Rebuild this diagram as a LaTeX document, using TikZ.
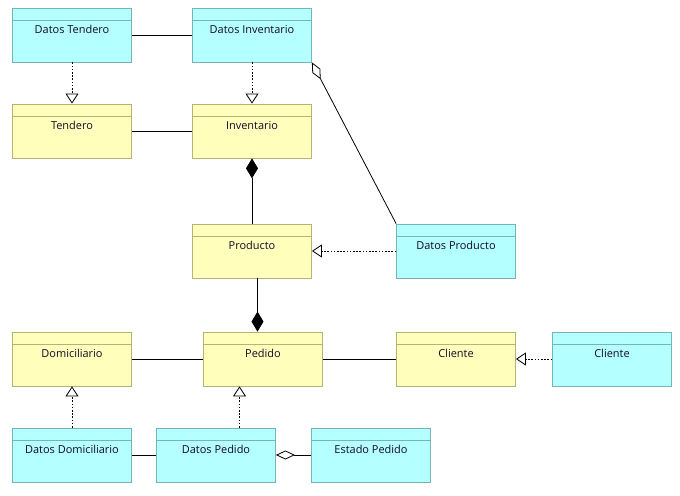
\documentclass[tikz,border=0pt]{standalone}
\usepackage{fontspec}
\setmainfont{Open Sans}
\usetikzlibrary{arrows.meta,calc}
\definecolor{cyanfill}{RGB}{180,255,255}
\definecolor{cyanline}{RGB}{120,180,180}
\definecolor{yelfill}{RGB}{255,255,187}
\definecolor{yelline}{RGB}{180,180,120}
\definecolor{txt}{RGB}{20,10,40}
\begin{document}
\begin{tikzpicture}[x=1bp,y=-1bp,
  font=\fontsize{11}{13}\selectfont,
  cls/.style={rectangle, inner sep=0pt, minimum width=119bp, minimum height=54bp,
    line width=0.8bp,
    path picture={\draw[line width=0.8bp,#1line]
      ([yshift=-12bp]path picture bounding box.north west) --
      ([yshift=-12bp]path picture bounding box.north east);},
    draw=#1line, fill=#1fill},
  cyanbox/.style={cls=cyan},
  yelbox/.style={cls=yel},
  title/.style={anchor=center, yshift=-22bp, inner sep=0pt, text=txt},
  assoc/.style={line width=0.8bp},
  realize/.style={line width=0.8bp, dash pattern=on 1.6bp off 1.6bp,
    -{Triangle[open,length=10bp,width=13bp,line width=0.8bp]}},
  compose/.style={line width=0.8bp, -{Diamond[length=20bp,width=12bp]}},
  aggregate/.style={line width=0.8bp, -{Diamond[open,length=19bp,width=9bp,line width=0.8bp]}}
]
\useasboundingbox (0,0) rectangle (680,496);

% top row: data classes
\node[cyanbox, label={[title]north:Datos Tendero}] (dten) at (72,35) {};
\node[cyanbox, label={[title]north:Datos Inventario}] (dinv) at (252,35) {};

% domain classes
\node[yelbox, label={[title]north:Tendero}] (ten) at (72,131) {};
\node[yelbox, label={[title]north:Inventario}] (inv) at (252,131) {};
\node[yelbox, label={[title]north:Producto}] (prod) at (252,251) {};
\node[cyanbox, label={[title]north:Datos Producto}] (dprod) at (456,251) {};

\node[yelbox, label={[title]north:Domiciliario}] (dom) at (72,359) {};
\node[yelbox, label={[title]north:Pedido}] (ped) at (263,359) {};
\node[yelbox, label={[title]north:Cliente}] (cli) at (456,359) {};
\node[cyanbox, label={[title]north:Cliente}] (dcli) at (612,359) {};

\node[cyanbox, label={[title]north:Datos Domiciliario}] (ddom) at (72,455) {};
\node[cyanbox, label={[title]north:Datos Pedido}] (dped) at (216,455) {};
\node[cyanbox, label={[title]north:Estado Pedido}] (est) at (371,455) {};

% associations
\draw[assoc] (dten) -- (dinv);
\draw[assoc] (ten) -- (inv);
\draw[assoc] (dom) -- (ped);
\draw[assoc] (ped) -- (cli);
\draw[assoc] (ddom) -- (dped);

% realizations
\draw[realize] (dten) -- (ten);
\draw[realize] (dinv) -- (inv);
\draw[realize] (dprod) -- (prod);
\draw[realize] (dcli) -- (cli);
\draw[realize] (ddom) -- (dom);
\path (dped.north) -- (ped.south) coordinate[pos=0.5] (mpd);
\draw[realize] (mpd |- dped.north) -- (mpd |- ped.south);

% compositions
\draw[compose] (prod) -- (inv);
\path (prod.south) -- (ped.north) coordinate[pos=0.5] (mpp);
\draw[compose] (mpp |- prod.south) -- (mpp |- ped.north);

% aggregations
\draw[aggregate] (dprod.north west) -- (dinv.south east);
\draw[aggregate] (est) -- (dped);
\end{tikzpicture}
\end{document}
